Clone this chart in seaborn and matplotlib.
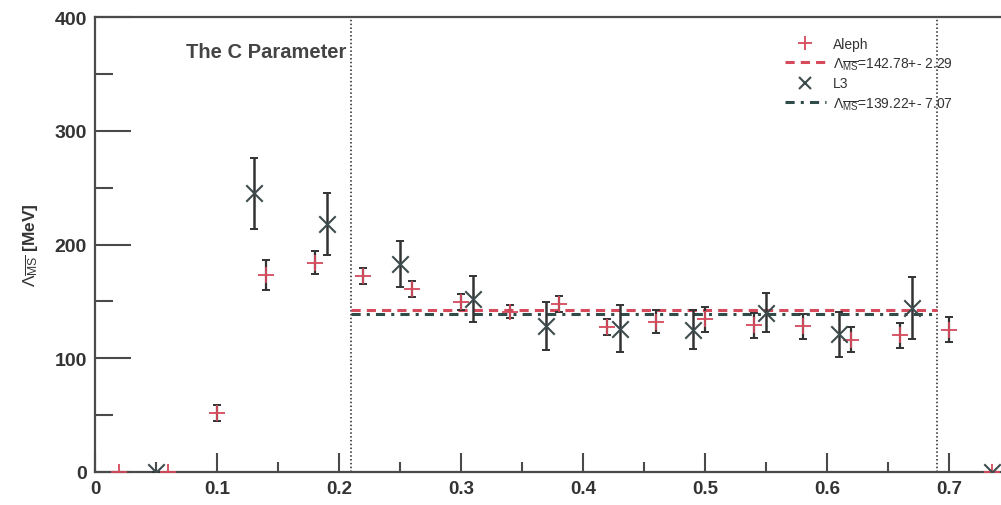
import matplotlib
matplotlib.use("Agg")
import matplotlib.pyplot as plt
from matplotlib.lines import Line2D
from matplotlib.ticker import MultipleLocator
import numpy as np
import pandas as pd
import seaborn as sns

# Aleph measurements: C value, Lambda_MSbar [MeV], uncertainty
aleph_x = [0.02, 0.06, 0.10, 0.14, 0.18, 0.22, 0.26, 0.30, 0.34, 0.38, 0.42,
           0.46, 0.50, 0.54, 0.58, 0.62, 0.66, 0.70, 0.735]
aleph_y = [0, 0, 52, 173, 184, 172, 161, 149, 141, 148, 127,
           132, 134, 129, 128, 116, 120, 125, 0]
aleph_err = [0, 0, 7, 13, 10, 7, 7, 7, 6, 7, 7,
             10, 11, 11, 11, 11, 11, 11, 0]

# L3 measurements
l3_x = [0.05, 0.13, 0.19, 0.25, 0.31, 0.37, 0.43, 0.49, 0.55, 0.61, 0.67, 0.735]
l3_y = [0, 245, 218, 183, 152, 128, 126, 125, 140, 121, 144, 0]
l3_err = [0, 31, 27, 20, 20, 21, 21, 17, 17, 20, 27, 0]

# Fit range and fitted values
fit_range = [0.21, 0.69]
aleph_fit, aleph_fit_err = 142.78, 2.29
l3_fit, l3_fit_err = 139.22, 7.07

title = "The C Parameter"

sns.set_theme(style="ticks")
plt.rcParams["font.family"] = ["Liberation Sans", "DejaVu Sans"]
plt.rcParams["mathtext.fontset"] = "custom"
plt.rcParams["mathtext.rm"] = "Liberation Sans"
plt.rcParams["mathtext.it"] = "Liberation Sans"
plt.rcParams["mathtext.bf"] = "Liberation Sans:bold"

red = "#d64a5c"
dark = "#3e4b4d"
axis_col = "#4a4a4a"

fig = plt.figure(figsize=(10.01, 5.06), dpi=100)
ax = fig.add_axes([95 / 1001, 33.3 / 506, 0.76 * 1220 / 1001, 454.4 / 506])

df_a = pd.DataFrame({"x": aleph_x, "y": aleph_y, "e": aleph_err})
df_l = pd.DataFrame({"x": l3_x, "y": l3_y, "e": l3_err})

# error bars first, markers on top
ax.errorbar(df_a.x, df_a.y, yerr=df_a.e, fmt="none", ecolor="#333333",
            elinewidth=1.6, capsize=3, capthick=1.4, zorder=3)
ax.errorbar(df_l.x, df_l.y, yerr=df_l.e, fmt="none", ecolor="#333333",
            elinewidth=1.8, capsize=3, capthick=1.4, zorder=3)
sns.scatterplot(data=df_a, x="x", y="y", marker="+", s=140, color=red,
                linewidth=1.3, ax=ax, zorder=4)
sns.scatterplot(data=df_l, x="x", y="y", marker="x", s=140, color=dark,
                linewidth=1.5, ax=ax, zorder=4)

# fit results over the fit range
ax.plot(fit_range, [aleph_fit, aleph_fit], color=red, lw=2.2,
        ls=(0, (3, 2)), zorder=2)
ax.plot(fit_range, [l3_fit, l3_fit], color="#2f4b4a", lw=2.2,
        ls=(0, (3, 2, 1, 2)), zorder=2)

for xv in fit_range:
    ax.axvline(xv, color="#222222", lw=1.1, ls=(0, (1, 1.5)), zorder=1)

ax.set_xlim(0, 0.76)
ax.set_ylim(0, 400)
ax.xaxis.set_major_locator(MultipleLocator(0.1))
ax.xaxis.set_minor_locator(MultipleLocator(0.05))
ax.yaxis.set_major_locator(MultipleLocator(100))
ax.yaxis.set_minor_locator(MultipleLocator(50))
ax.set_xticks(np.arange(0, 0.71, 0.1))
ax.set_xticklabels(["0", "0.1", "0.2", "0.3", "0.4", "0.5", "0.6", "0.7"])
ax.set_yticks([0, 100, 200, 300, 400])
ax.set_yticklabels(["0", "100", "200", "300", "400"])

ax.tick_params(axis="x", which="major", direction="in", length=14, width=1.5,
               color=axis_col, labelsize=13.5, labelcolor="#333333", pad=6)
ax.tick_params(axis="x", which="minor", direction="in", length=7, width=1.5,
               color=axis_col)
ax.tick_params(axis="y", which="major", direction="in", length=26, width=1.5,
               color=axis_col, labelsize=14, labelcolor="#333333", pad=6)
ax.tick_params(axis="y", which="minor", direction="in", length=13, width=1.5,
               color=axis_col)
for lab in ax.get_xticklabels() + ax.get_yticklabels():
    lab.set_fontweight("bold")

for side in ["left", "bottom", "top", "right"]:
    ax.spines[side].set_color(axis_col)
    ax.spines[side].set_linewidth(1.6)

ax.set_xlabel("")
ax.set_ylabel(r"$\Lambda_{\overline{\rm MS}}$ [MeV]", fontsize=12.5,
              fontweight="bold", color="#333333", labelpad=10)

ax.text(0.075, 370, title, fontsize=14.5, fontweight="bold", color="#444444",
        va="center", ha="left")

handles = [
    Line2D([], [], color=red, marker="+", ls="none", markersize=10, mew=1.3),
    Line2D([], [], color=red, lw=2.2, ls=(0, (3, 2))),
    Line2D([], [], color=dark, marker="x", ls="none", markersize=9, mew=1.5),
    Line2D([], [], color="#2f4b4a", lw=2.2, ls=(0, (3, 2, 1, 2))),
]
labels = [
    "Aleph",
    r"$\Lambda_{\overline{\rm MS}}$=%.2f+- %.2f" % (aleph_fit, aleph_fit_err),
    "L3",
    r"$\Lambda_{\overline{\rm MS}}$=%.2f+- %.2f" % (l3_fit, l3_fit_err),
]
fig.legend(handles, labels, loc="upper left",
           bbox_to_anchor=(772 / 1001, 1 - 25 / 506), frameon=False,
           fontsize=10, handlelength=3.0, handletextpad=0.5,
           labelspacing=0.33, labelcolor="#333333")

fig.savefig("out.png", dpi=100)
